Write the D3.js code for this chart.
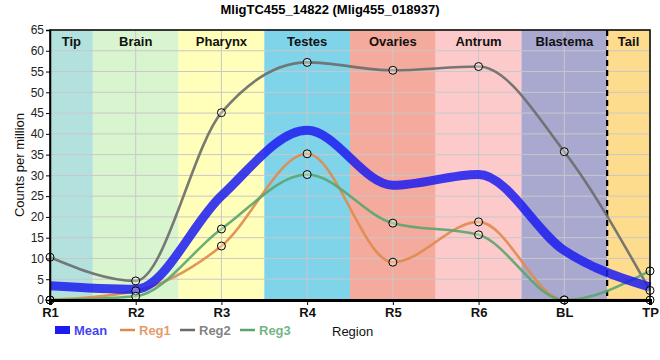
<!DOCTYPE html>
<html><head><meta charset="utf-8">
<script src="https://cdn.jsdelivr.net/npm/d3@7"></script>
<style>body{margin:0;background:#fff}svg{font-family:"Liberation Sans",Arial,sans-serif}</style>
</head><body><svg id="c" width="660" height="360"></svg>
<script>
const categories = ["R1","R2","R3","R4","R5","R6","BL","TP"];
const reg1 = [0, 2.2, 13.0, 35.2, 9.1, 18.8, 0, 0];
const reg2 = [10.3, 4.6, 45.1, 57.2, 55.3, 56.2, 35.7, 2.3];
const reg3 = [0, 0.9, 17.1, 30.2, 18.5, 15.7, 0, 7.0];
const meanVals = categories.map((c,i)=> (reg1[i]+reg2[i]+reg3[i])/3);
const regionNames = ["Tip","Brain","Pharynx","Testes","Ovaries","Antrum","Blastema","Tail"];
const regionStart = [0, 0.5, 1.5, 2.5, 3.5, 4.5, 5.5, 6.5];
const regionEnd   = [0.5, 1.5, 2.5, 3.5, 4.5, 5.5, 6.5, 7];
const regionColors = ["#b3e2de","#d9f5d0","#ffffb9","#80d4ea","#f4aa9c","#fccaca","#a9a8cf","#fedc8e"];
const yTicks = d3.range(0, 66, 5);
const seriesNames = ["Mean","Reg1","Reg2","Reg3"];
const seriesColors = ["#1c1cf0","#e0894e","#6b6b6b","#5aa56e"];

const svg = d3.select("#c");
const L=50, R=650, T=30, B=300;
const x = d3.scaleLinear().domain([0,7]).range([L,R]);
const y = d3.scaleLinear().domain([0,65]).range([B,T]);

// bands
svg.selectAll("rect.band").data(regionNames).join("rect")
  .attr("x",(d,i)=>x(regionStart[i])).attr("y",T)
  .attr("width",(d,i)=>x(regionEnd[i])-x(regionStart[i])).attr("height",B-T)
  .attr("fill",(d,i)=>regionColors[i]);

// grid
svg.append("g").selectAll("line").data(yTicks).join("line")
  .attr("x1",L).attr("x2",R).attr("y1",d=>y(d)).attr("y2",d=>y(d))
  .attr("stroke","#c8c8c8").attr("stroke-width",1);
svg.append("g").selectAll("line").data(categories).join("line")
  .attr("x1",(d,i)=>x(i)).attr("x2",(d,i)=>x(i)).attr("y1",T).attr("y2",B)
  .attr("stroke","#c8c8c8").attr("stroke-width",1);

// region labels
svg.append("g").selectAll("text").data(regionNames).join("text")
  .attr("x",(d,i)=>(x(regionStart[i])+x(regionEnd[i]))/2).attr("y",46)
  .attr("text-anchor","middle").attr("font-weight","bold").attr("font-size",13)
  .attr("fill","#111").text(d=>d);

// dashed line
svg.append("line").attr("x1",x(6.5)).attr("x2",x(6.5)).attr("y1",T).attr("y2",B)
  .attr("stroke","#000").attr("stroke-width",2.2).attr("stroke-dasharray","6,4");

// lines
const line = d3.line().x((d,i)=>x(i)).y(d=>y(d)).curve(d3.curveMonotoneX);
const all = [meanVals, reg1, reg2, reg3];
const widths = [9, 2.6, 2.6, 2.6];
const opac = [0.85, 0.9, 0.9, 0.9];
[1,2,3,0].forEach(k=>{
  svg.append("path").attr("d",line(all[k])).attr("fill","none")
    .attr("stroke",seriesColors[k]).attr("stroke-width",widths[k])
    .attr("stroke-opacity",opac[k]).attr("stroke-linejoin","round");
});
// points
[1,2,3].forEach(k=>{
  svg.append("g").selectAll("circle").data(all[k]).join("circle")
    .attr("cx",(d,i)=>x(i)).attr("cy",d=>y(d)).attr("r",4)
    .attr("fill","rgba(255,255,240,0.35)").attr("stroke","#000").attr("stroke-width",1);
});

// frame
svg.append("rect").attr("x",L).attr("y",T).attr("width",R-L).attr("height",B-T)
  .attr("fill","none").attr("stroke","#000").attr("stroke-width",1.5);

// axes
const yAxis = svg.append("g").attr("transform",`translate(${L},0)`)
  .call(d3.axisLeft(y).tickValues(yTicks).tickSize(4).tickPadding(2));
yAxis.select(".domain").attr("stroke","#000").attr("stroke-width",1.5);
yAxis.selectAll("text").attr("font-size",12).attr("fill","#222").attr("font-family","Liberation Sans, Arial");
const xAxis = svg.append("g").attr("transform",`translate(0,${B})`)
  .call(d3.axisBottom(x).tickValues(d3.range(8)).tickFormat(i=>categories[i]).tickSize(5).tickPadding(3));
xAxis.select(".domain").attr("stroke","#000").attr("stroke-width",3);
xAxis.selectAll("text").attr("font-size",13).attr("font-weight","bold").attr("fill","#111").attr("font-family","Liberation Sans, Arial");

// titles
svg.append("text").attr("x",330).attr("y",14).attr("text-anchor","middle")
  .attr("font-weight","bold").attr("font-size",13).text("MligTC455_14822 (Mlig455_018937)");
svg.append("text").attr("transform","translate(24,165) rotate(-90)").attr("text-anchor","middle")
  .attr("font-size",13).attr("fill","#111").text("Counts per million");
svg.append("text").attr("x",332).attr("y",336).attr("font-size",13).attr("fill","#111").text("Region");

// legend
const lx = [55, 120, 180, 240];
seriesNames.forEach((n,k)=>{
  const g = svg.append("g");
  if(k===0){
    g.append("rect").attr("x",lx[k]).attr("y",326).attr("width",15).attr("height",8).attr("fill",seriesColors[k]);
  } else {
    g.append("line").attr("x1",lx[k]).attr("x2",lx[k]+15).attr("y1",330).attr("y2",330)
      .attr("stroke",seriesColors[k]).attr("stroke-width",2.5);
  }
  g.append("text").attr("x",lx[k]+19).attr("y",335).attr("font-size",13).attr("font-weight","bold")
    .attr("fill",seriesColors[k]).attr("fill-opacity",0.85).text(n);
});
</script></body></html>
